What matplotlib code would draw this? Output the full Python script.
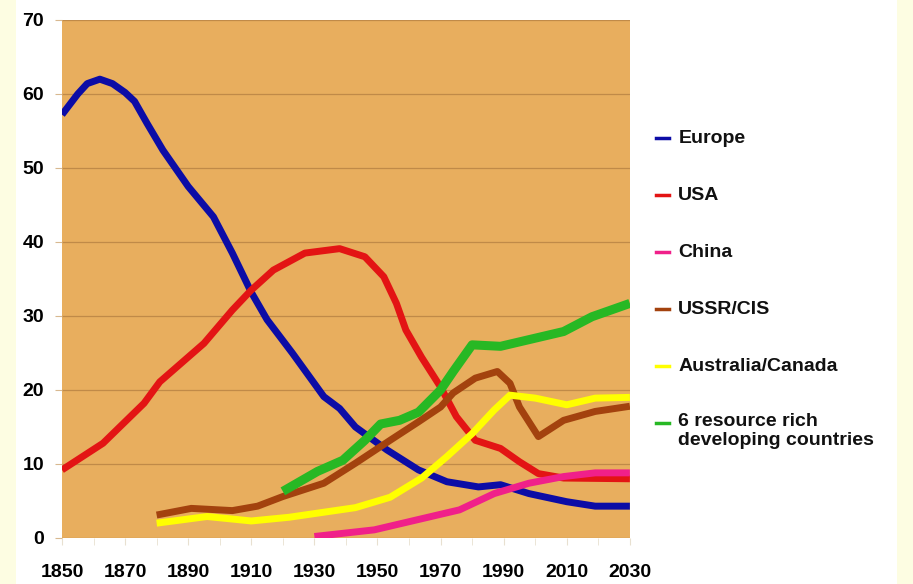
import matplotlib
matplotlib.use("Agg")
import matplotlib.pyplot as plt
from matplotlib.lines import Line2D
from matplotlib.patches import Rectangle

# values (share of world mineral production, %)
europe_years = [1850, 1855, 1858, 1862, 1866, 1870, 1873, 1877, 1882, 1890, 1898, 1904,
                1910, 1915, 1923, 1933, 1938, 1943, 1953, 1963, 1972, 1982, 1989,
                1998, 2010, 2019, 2030]
europe_vals = [57.2, 60, 61.4, 62, 61.4, 60.2, 59, 56, 52.4, 47.5, 43.4, 38.5,
               33.2, 29.5, 25, 19.1, 17.5, 15, 11.9, 9.2, 7.6, 6.9, 7.2,
               6, 4.9, 4.3, 4.3]

usa_years = [1850, 1863, 1876, 1881, 1895, 1904, 1910, 1917, 1927, 1938, 1946, 1952,
             1956, 1959, 1964, 1970, 1975, 1981, 1989, 1995, 2001, 2009, 2030]
usa_vals = [9.2, 12.8, 18.2, 21.1, 26.3, 30.8, 33.5, 36.2, 38.5, 39.1, 38, 35.3,
            31.7, 28.1, 24.4, 20.4, 16.4, 13.2, 12.1, 10.3, 8.7, 8.1, 8]

china_years = [1930, 1949, 1962, 1976, 1987, 1998, 2009, 2019, 2030]
china_vals = [0.2, 1.1, 2.4, 3.8, 6, 7.4, 8.3, 8.8, 8.8]

ussr_years = [1880, 1891, 1904, 1912, 1920, 1933, 1943, 1954, 1963, 1970, 1974, 1981,
              1988, 1992, 1995, 2001, 2009, 2019, 2030]
ussr_vals = [3.1, 4, 3.7, 4.3, 5.6, 7.4, 10.1, 13.2, 15.7, 17.7, 19.6, 21.6,
             22.5, 20.9, 17.7, 13.7, 15.9, 17.1, 17.8]

aus_years = [1880, 1896, 1910, 1922, 1943, 1954, 1964, 1972, 1980, 1987, 1992,
             2000, 2010, 2019, 2030]
aus_vals = [2, 2.9, 2.3, 2.8, 4.1, 5.5, 8.1, 11, 14.1, 17.3, 19.3,
            18.9, 18, 18.9, 19]

dev_years = [1920, 1931, 1939, 1946, 1951, 1957, 1963, 1970, 1974, 1980, 1989,
             1998, 2009, 2018, 2030]
dev_vals = [6.3, 9, 10.5, 13.2, 15.4, 15.9, 17, 20, 22.5, 26.1, 25.9,
            26.8, 27.9, 29.9, 31.7]

series = [
    ("Europe", europe_years, europe_vals, "#0c0ca6", 5),
    ("USA", usa_years, usa_vals, "#e31414", 5),
    ("USSR/CIS", ussr_years, ussr_vals, "#a3420e", 5),
    ("Australia/Canada", aus_years, aus_vals, "#ffff00", 5),
    ("China", china_years, china_vals, "#f0208a", 5),
    ("6 resource rich\ndeveloping countries", dev_years, dev_vals, "#27b824", 6.5),
]
legend_order = ["Europe", "USA", "China", "USSR/CIS", "Australia/Canada",
                "6 resource rich\ndeveloping countries"]

font = ["Liberation Sans Narrow", "Liberation Sans", "DejaVu Sans"]

fig = plt.figure(figsize=(9.13, 5.84), dpi=100, facecolor="#fdfde2")
fig.patches.append(Rectangle((0.017, 0), 0.965, 1, transform=fig.transFigure,
                             facecolor="white", edgecolor="none", zorder=-5))

ax = fig.add_axes([0.0679, 0.0788, 0.622, 0.887])
ax.set_facecolor("#e8ae5e")
for name, xs, ys, color, lw in series:
    ax.plot(xs, ys, color=color, lw=lw, solid_capstyle="butt",
            solid_joinstyle="round")

ax.set_xlim(1850, 2030)
ax.set_ylim(0, 70)
ax.set_yticks(range(0, 71, 10))
ax.set_xticks(range(1850, 2031, 20))
ax.set_xticks(range(1850, 2031, 10), minor=True)
ax.grid(axis="y", color="#c08a48", lw=0.9)
ax.set_axisbelow(True)
for s in ax.spines.values():
    s.set_visible(False)

ax.tick_params(axis="y", length=5, color="#d8b890", pad=8)
ax.tick_params(axis="x", which="both", length=5, color="#e8e0d0", pad=14)
for lab in ax.get_xticklabels() + ax.get_yticklabels():
    lab.set_family(font)
    lab.set_fontweight("bold")
    lab.set_fontsize(14)

# legend on the right
colors = {name: color for name, _, _, color, _ in series}
y0 = 0.763
step = 0.0975
for i, name in enumerate(legend_order):
    y = y0 - i * step
    fig.lines.append(Line2D([0.719, 0.733], [y, y], transform=fig.transFigure,
                            color=colors[name], lw=2.5))
    if "\n" in name:
        fig.text(0.743, y + 0.018, name, family=font, fontweight="bold",
                 fontsize=14, va="top", color="#111111", linespacing=1.15)
    else:
        fig.text(0.743, y, name, family=font, fontweight="bold", fontsize=14,
                 va="center", color="#111111")

fig.savefig("out.png", dpi=100, facecolor=fig.get_facecolor())
